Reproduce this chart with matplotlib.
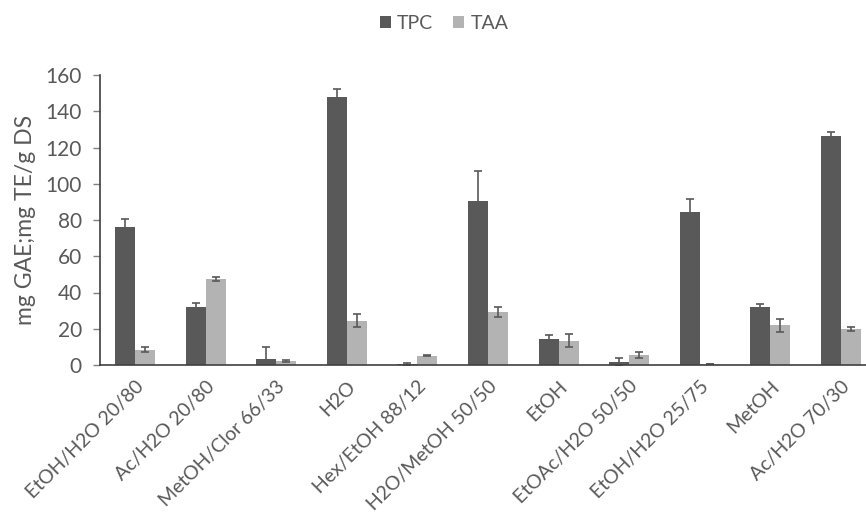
import numpy as np
import matplotlib
matplotlib.use("Agg")
import matplotlib.pyplot as plt

# extraction solvents
solvents = ["EtOH/H2O 20/80", "Ac/H2O 20/80", "MetOH/Clor 66/33", "H2O",
            "Hex/EtOH 88/12", "H2O/MetOH 50/50", "EtOH", "EtOAc/H2O 50/50",
            "EtOH/H2O 25/75", "MetOH", "Ac/H2O 70/30"]

tpc = [76.3, 31.8, 3.3, 147.7, 0.3, 90.7, 14.3, 1.8, 84.6, 32.2, 126.5]
tpc_err = [4.5, 2.5, 6.4, 4.7, 1.0, 16.5, 2.0, 2.2, 6.8, 1.5, 2.0]
taa = [8.3, 47.4, 2.2, 24.5, 5.0, 29.4, 13.4, 5.5, 0.5, 21.9, 20.0]
taa_err = [1.4, 1.3, 0.5, 3.5, 0.3, 2.8, 3.7, 1.8, 0.2, 3.5, 1.2]

plt.rcParams['font.family'] = ['Lato', 'DejaVu Sans']
text_col = '#595959'

fig = plt.figure(figsize=(8.66, 5.23), dpi=100)
ax = fig.add_axes([100 / 866, 1 - 365 / 523, 776 / 866, 290 / 523])

x = np.arange(len(solvents))
w = 0.283
err_kw = dict(ecolor='#595959', elinewidth=1.2, capsize=3, capthick=1.2)
ax.bar(x - w / 2, tpc, w, yerr=tpc_err, color='#595959', label='TPC',
       error_kw=err_kw, zorder=2)
ax.bar(x + w / 2, taa, w, yerr=taa_err, color='#b3b3b3', label='TAA',
       error_kw=err_kw, zorder=2)

ax.set_xlim(-0.5, len(solvents) - 0.5)
ax.set_ylim(0, 160)
ax.set_yticks(range(0, 161, 20))
ax.set_xticks(x)
ax.set_xticklabels(solvents, rotation=45, ha='right', rotation_mode='anchor')
ax.tick_params(axis='x', length=0, pad=9, labelsize=14, labelcolor=text_col)
ax.tick_params(axis='y', length=5, width=1, color='#808080', labelsize=15,
               labelcolor=text_col, pad=8)
ax.set_ylabel('mg GAE;mg TE/g DS', fontsize=16.5, color=text_col, labelpad=7)

for s in ['top', 'right']:
    ax.spines[s].set_visible(False)
for s in ['left', 'bottom']:
    ax.spines[s].set_color('#404040')
    ax.spines[s].set_linewidth(1.2)

fig.legend(loc='upper center', bbox_to_anchor=(444 / 866, 1.005), ncol=2,
           frameon=False, fontsize=14, labelcolor=text_col, handlelength=0.6,
           handleheight=0.6, handletextpad=0.3, columnspacing=1.0)

fig.savefig('out.png', dpi=100)
